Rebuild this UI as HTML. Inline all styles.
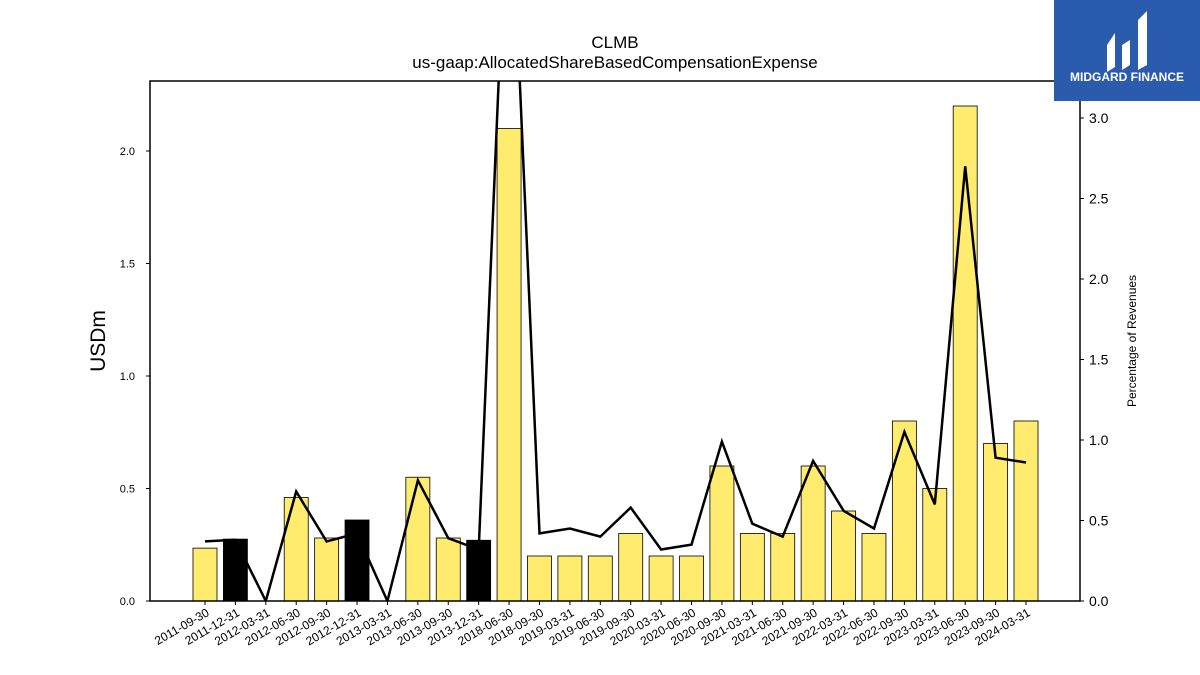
<!DOCTYPE html>
<html><head><meta charset="utf-8">
<style>
body{margin:0;background:#fff;font-family:"Liberation Sans","DejaVu Sans",sans-serif;}
#wrap{position:relative;width:1200px;height:675px;overflow:hidden;}
</style></head>
<body>
<div id="wrap">
<svg id="chart" width="1200" height="675" xmlns="http://www.w3.org/2000/svg">
<text x="615" y="48" text-anchor="middle" font-size="17">CLMB</text>
<text x="615" y="68" text-anchor="middle" font-size="17">us-gaap:AllocatedShareBasedCompensationExpense</text>
<text transform="translate(105,341) rotate(-90)" text-anchor="middle" font-size="21">USDm</text>
<text transform="translate(1136,341) rotate(-90)" text-anchor="middle" font-size="12">Percentage of Revenues</text>
<g id="marks"></g>
<g>
<rect x="1054" y="0" width="146" height="101" fill="#2b5bad"/>
<path d="M1107 45 L1115 33 L1115 67 L1107 72 Z M1122 45 L1130 40 L1130 65 L1122 70 Z M1138 20 L1147 11 L1147 65 L1138 70 Z" fill="#fff"/>
<text x="1127" y="81" text-anchor="middle" font-size="12" font-weight="bold" fill="#fff">MIDGARD FINANCE</text>
</g>
</svg>
</div>
<script>
const categories=["2011-09-30","2011-12-31","2012-03-31","2012-06-30","2012-09-30","2012-12-31","2013-03-31","2013-06-30","2013-09-30","2013-12-31","2018-06-30","2018-09-30","2019-03-31","2019-06-30","2019-09-30","2020-03-31","2020-06-30","2020-09-30","2021-03-31","2021-06-30","2021-09-30","2022-03-31","2022-06-30","2022-09-30","2023-03-31","2023-06-30","2023-09-30","2024-03-31"];
const barValues=[0.235,0.275,0,0.46,0.28,0.36,0,0.55,0.28,0.27,2.10,0.2,0.2,0.2,0.3,0.2,0.2,0.6,0.3,0.3,0.6,0.4,0.3,0.8,0.5,2.2,0.7,0.8];
const highlighted=[false,true,false,false,false,true,false,false,false,true,false,false,false,false,false,false,false,false,false,false,false,false,false,false,false,false,false,false];
const pctValues=[0.37,0.38,0,0.68,0.37,0.42,0,0.75,0.39,0.32,4.75,0.42,0.45,0.40,0.58,0.32,0.35,0.99,0.48,0.40,0.87,0.56,0.45,1.05,0.60,2.70,0.89,0.86];
const leftTicks=[0,0.5,1.0,1.5,2.0];
const rightTicks=[0,0.5,1.0,1.5,2.0,2.5,3.0];

const NS="http://www.w3.org/2000/svg";
const L=150,R=1080,T=81,B=601;
const x0=205,step=(1026-205)/27;
const xs=i=>x0+i*step;
const yL=v=>B-v*225;
const yR=v=>B-v*161;
const g=document.getElementById('marks');
function mk(t,a,p){const e=document.createElementNS(NS,t);for(const k in a)e.setAttribute(k,a[k]);(p||g).appendChild(e);return e;}
const defs=mk('defs',{});
const cp=mk('clipPath',{id:'clip'},defs);
mk('rect',{x:L,y:T,width:R-L,height:B-T},cp);

barValues.forEach((v,i)=>{
  if(v<=0)return;
  const r=mk('rect',{x:xs(i)-12,y:yL(v),width:24,height:B-yL(v),fill:highlighted[i]?'#000':'#ffec6e',stroke:'#000','stroke-width':0.8});
  
  
});
const pts=pctValues.map((v,i)=>xs(i).toFixed(1)+','+yR(v).toFixed(1)).join(' ');
const line=mk('polyline',{points:pts,fill:'none',stroke:'#000','stroke-width':2.5,'clip-path':'url(#clip)'});



const frame=mk('rect',{x:L,y:T,width:R-L,height:B-T,fill:'none',stroke:'#000','stroke-width':1.5});



leftTicks.forEach(v=>{
  mk('line',{x1:L-4,x2:L,y1:yL(v),y2:yL(v),stroke:'#000'});
  const t=mk('text',{x:L-15,y:yL(v)+4,'text-anchor':'end','font-size':11});
  t.textContent=v.toFixed(1);
  
  
});
rightTicks.forEach(v=>{
  mk('line',{x1:R,x2:R+4,y1:yR(v),y2:yR(v),stroke:'#000'});
  const t=mk('text',{x:R+9,y:yR(v)+5,'font-size':14});
  t.textContent=v.toFixed(1);
  
  
});
categories.forEach((c,i)=>{
  const x=xs(i);
  mk('line',{x1:x,x2:x,y1:B,y2:B+4,stroke:'#000'});
  const t=mk('text',{transform:'translate('+(x+5)+','+(B+14)+') rotate(-30)','text-anchor':'end','font-size':12});
  t.textContent=c;
  
  
});
</script>
</body></html>
